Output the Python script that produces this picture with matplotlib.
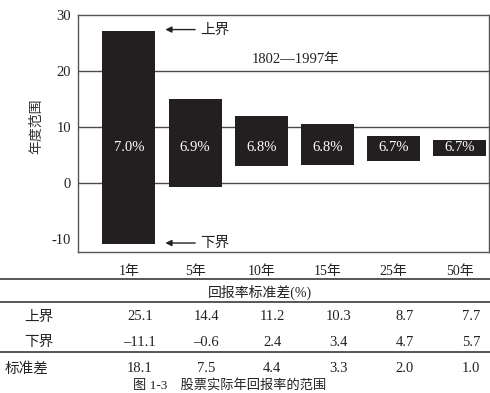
import matplotlib
matplotlib.use("Agg")
import matplotlib.pyplot as plt
from matplotlib.lines import Line2D
from matplotlib import transforms
import numpy as np

plt.rcParams['axes.unicode_minus'] = False
FAM = ['Liberation Serif', 'Noto Sans CJK SC', 'DejaVu Sans']
CJK = ['Noto Sans CJK SC', 'DejaVu Sans']
plt.rcParams['font.family'] = FAM

# ---- data ----
periods = ['1年', '5年', '10年', '15年', '25年', '50年']
bar_top = [27.1, 15.0, 12.0, 10.5, 8.4, 7.7]
bar_bottom = [-10.9, -0.7, 3.0, 3.2, 4.0, 4.8]
mean_labels = ['7.0%', '6.9%', '6.8%', '6.8%', '6.7%', '6.7%']
upper_row = ['25.1', '14.4', '11.2', '10.3', '8.7', '7.7']
lower_row = ['\u201311.1', '\u20130.6', '2.4', '3.4', '4.7', '5.7']
std_row = ['18.1', '7.5', '4.4', '3.3', '2.0', '1.0']
yticks = [-10, 0, 10, 20, 30]

W, H = 490, 393
fig = plt.figure(figsize=(W / 100, H / 100), dpi=100)
fig.patch.set_facecolor('white')

def fy(px):
    return 1 - px / H

ax = fig.add_axes([78 / W, fy(252), (489 - 78) / W, (252 - 15) / H])
x = np.arange(len(periods))
bar_color = '#231f20'
grid_color = '#4a4a4a'

for v in [0, 10, 20]:
    ax.axhline(v, color=grid_color, lw=1.0, zorder=1)

heights = [t - b for t, b in zip(bar_top, bar_bottom)]
ax.bar(x, heights, bottom=bar_bottom, width=0.8, color=bar_color, zorder=2)

for xi, lab in zip(x, mean_labels):
    ax.text(xi, 6.3, lab, color='white', ha='center', va='center',
            fontsize=10.5, family=FAM, zorder=3)

ax.set_xlim(-0.77, 5.44)
ax.set_ylim(-12.3, 30)
ax.set_yticks(yticks)
ax.set_yticklabels([str(t) for t in yticks], fontsize=10.5, color='#222222')
ax.set_xticks(x)
ax.set_xticklabels(periods, fontsize=10, color='#222222')
ax.tick_params(axis='both', length=0)
ax.tick_params(axis='y', pad=5)
ax.tick_params(axis='x', pad=9)
for s in ax.spines.values():
    s.set_color('#555555')
    s.set_linewidth(1.0)

ax.set_ylabel('年度范围', family=CJK, fontsize=10, color='#333333')
ax.yaxis.set_label_coords(-0.085, 0.53)

# annotations
ax.annotate('', xy=(0.55, 27.4), xytext=(1.0, 27.4),
            arrowprops=dict(arrowstyle='-|>', color='#222222', lw=1.0,
                            mutation_scale=9, shrinkA=0, shrinkB=0))
ax.text(1.07, 27.4, '上界', ha='left', va='center', fontsize=10.5,
        family=CJK, color='#222222')
ax.annotate('', xy=(0.55, -10.7), xytext=(1.0, -10.7),
            arrowprops=dict(arrowstyle='-|>', color='#222222', lw=1.0,
                            mutation_scale=9, shrinkA=0, shrinkB=0))
ax.text(1.07, -10.7, '下界', ha='left', va='center', fontsize=10.5,
        family=CJK, color='#222222')
ax.text(1.86, 22.0, '1802\u20141997年', ha='left', va='center',
        fontsize=10.5, family=FAM, color='#222222')

# ---- table below ----
line_color = '#3a3a3a'
for ypx in [279, 302, 352]:
    fig.add_artist(Line2D([0, 1], [fy(ypx), fy(ypx)], transform=fig.transFigure,
                          color=line_color, lw=1.2))

fig.text(260 / W, fy(292), '回报率标准差(%)', ha='center', va='center',
         fontsize=10, family=FAM, color='#222222')

col_tr = transforms.blended_transform_factory(
    transforms.offset_copy(ax.transData, fig=fig, x=11, y=0, units='dots'),
    fig.transFigure)

rows = [('上界', upper_row, 317), ('下界', lower_row, 342), ('标准差', std_row, 369)]
for name, vals, ypx in rows:
    if name == '标准差':
        fig.text(5 / W, fy(ypx), name, ha='left', va='center', fontsize=10.5,
                 family=CJK, color='#222222')
    else:
        fig.text(39 / W, fy(ypx), name, ha='center', va='center', fontsize=10.5,
                 family=CJK, color='#222222')
    for xi, v in zip(x, vals):
        fig.text(xi, fy(ypx), v, transform=col_tr, ha='center', va='center',
                 fontsize=10.5, family=FAM, color='#222222')

fig.text(133 / W, fy(392), '图 1-3　股票实际年回报率的范围', ha='left', va='bottom',
         fontsize=9.5, family=FAM, color='#222222')

fig.savefig('out.png', dpi=100, facecolor='white')
